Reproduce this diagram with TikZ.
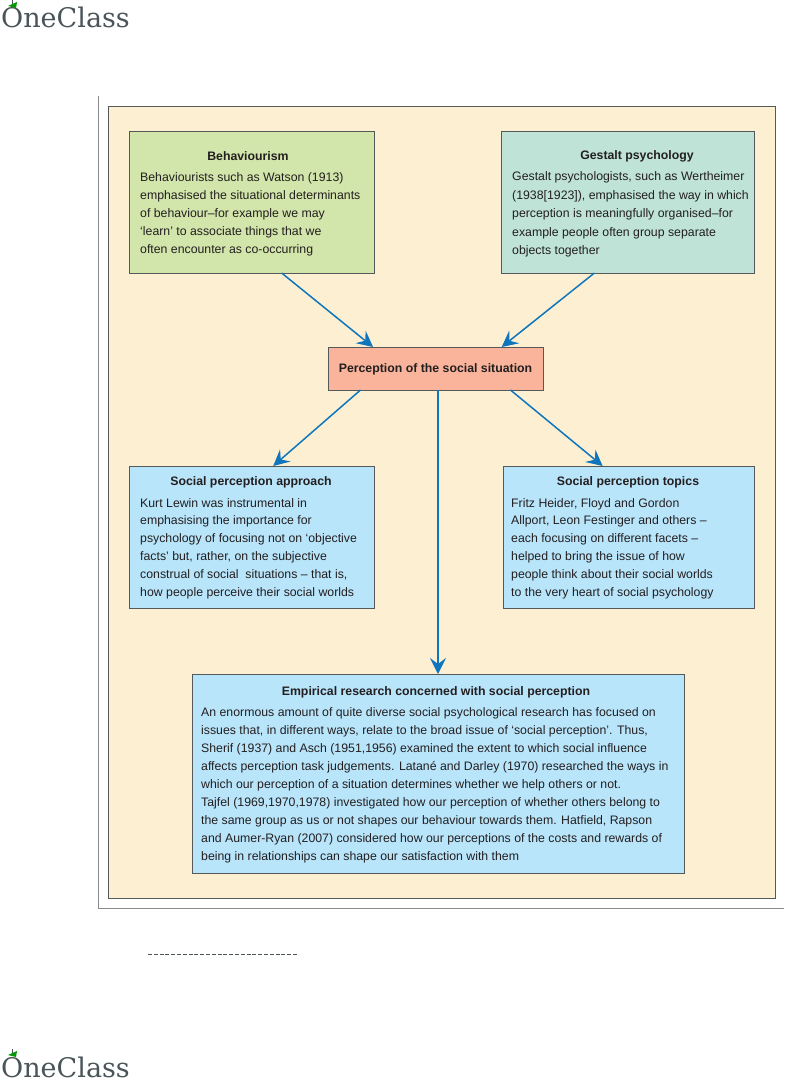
\documentclass[tikz,border=0pt]{standalone}
\usepackage{fontspec}
\setmainfont{Liberation Sans}
\newfontfamily\logofont{DejaVu Serif}
\usetikzlibrary{arrows.meta}
\definecolor{panelbg}{HTML}{FDF0D2}
\definecolor{greenbox}{HTML}{D2E5AA}
\definecolor{tealbox}{HTML}{BFE3D6}
\definecolor{salmonbox}{HTML}{F9B49B}
\definecolor{bluebox}{HTML}{B9E5FB}
\definecolor{arrowblue}{HTML}{0F75BD}
\definecolor{edgegrey}{HTML}{55595A}
\definecolor{logogrey}{HTML}{4A5559}
\definecolor{inkgrey}{HTML}{231F20}
\tikzset{
  box/.style={draw=edgegrey, line width=0.9pt, anchor=north west, inner sep=0pt, outer sep=0pt},
  heading/.style={font=\fontsize{12.3}{15}\selectfont\bfseries, text=inkgrey, inner sep=0pt},
  body/.style={font=\fontsize{12.3}{18}\selectfont, text=inkgrey, align=left, anchor=north west, inner sep=0pt},
  flow/.style={draw=arrowblue, line width=1.5pt, -{Stealth[length=16pt,width=16pt,inset=6pt]}},
  logo/.style={font=\fontsize{27}{27}\selectfont\logofont, text=logogrey, anchor=base west, inner sep=0pt}
}
\begin{document}
\begin{tikzpicture}[x=1pt,y=-1pt]
    \useasboundingbox (0,0) rectangle (784,1081);
    \fill[white] (0,0) rectangle (784,1081);

    % Logos, top and bottom
    \foreach \ybase in {28,1077} {
        \node[logo] at (1,\ybase) {OneClass};
        \draw[logogrey, line width=1pt] (12,\ybase-22) -- (12,\ybase-28);
        \fill[green!60!black] (8,\ybase-22) -- (17,\ybase-26) -- (16,\ybase-20) -- cycle;
    }

    % Outer frame and panel
    \draw[edgegrey!70, line width=0.9pt] (98,96) -- (98,908) -- (784,908);
    \fill[panelbg] (108,106) rectangle (775,898);
    \draw[edgegrey, line width=0.9pt] (108,106) rectangle (775,898);

    % Top boxes
    \node[box, fill=greenbox, minimum width=245pt, minimum height=142pt] (behav) at (129,131) {};
    \node[box, fill=tealbox, minimum width=253pt, minimum height=142pt] (gestalt) at (501,131) {};

    % Middle box
    \node[box, fill=salmonbox, minimum width=215pt, minimum height=43pt] (centre) at (328,347) {};
    \node[heading] (centretext) at (435.5,369) {Perception of the social situation};

    % Lower boxes
    \node[box, fill=bluebox, minimum width=245pt, minimum height=142pt] (approach) at (129,466) {};
    \node[box, fill=bluebox, minimum width=251pt, minimum height=142pt] (topics) at (503,466) {};
    \node[box, fill=bluebox, minimum width=492pt, minimum height=199pt] (empirical) at (192,674) {};

    % Box texts
    \node[heading] (behavhead) at (248,156.5) {Behaviourism};
    \node[body] (behavbody) at (140,172) {Behaviourists such as Watson (1913)\\
        emphasised the situational determinants\\
        of behaviour--for example we may\\
        `learn' to associate things that we\\
        often encounter as co-occurring};

    \node[heading] (gestalthead) at (637,156.5) {Gestalt psychology};
    \node[body, font=\fontsize{12.3}{18.5}\selectfont] (gestaltbody) at (512,171.5) {Gestalt psychologists, such as Wertheimer\\
        (1938[1923]), emphasised the way in which\\
        perception is meaningfully organised--for\\
        example people often group separate\\
        objects together};

    \node[heading] (approachhead) at (251,482.5) {Social perception approach};
    \node[body, font=\fontsize{12.3}{17.8}\selectfont] (approachbody) at (140,498) {Kurt Lewin was instrumental in\\
        emphasising the importance for\\
        psychology of focusing not on `objective\\
        facts' but, rather, on the subjective\\
        construal of social\ \ situations -- that is,\\
        how people perceive their social worlds};

    \node[heading] (topicshead) at (628,482.5) {Social perception topics};
    \node[body, font=\fontsize{12.3}{17.8}\selectfont] (topicsbody) at (511,498) {Fritz Heider, Floyd and Gordon\\
        Allport, Leon Festinger and others --\\
        each focusing on different facets --\\
        helped to bring the issue of how\\
        people think about their social worlds\\
        to the very heart of social psychology};

    \node[heading] (empiricalhead) at (436,692.5) {Empirical research concerned with social perception};
    \node[body] (empiricalbody) at (201,707) {An enormous amount of quite diverse social psychological research has focused on\\
        issues that, in different ways, relate to the broad issue of `social perception'. Thus,\\
        Sherif (1937) and Asch (1951,1956) examined the extent to which social influence\\
        affects perception task judgements. Latané and Darley (1970) researched the ways in\\
        which our perception of a situation determines whether we help others or not.\\
        Tajfel (1969,1970,1978) investigated how our perception of whether others belong to\\
        the same group as us or not shapes our behaviour towards them. Hatfield, Rapson\\
        and Aumer-Ryan (2007) considered how our perceptions of the costs and rewards of\\
        being in relationships can shape our satisfaction with them};

    % Arrows
    \draw[flow] (behav.-67.5) -- (centre.161.9);
    \draw[flow] (gestalt.-115.9) -- (centre.18.3);
    \draw[flow] (centre.-164) -- (approach.73.4);
    \draw[flow] (centre.-16.2) -- (topics.110.2);
    \draw[flow] (empirical.north |- centre.south) -- (empirical.north);

    % Dashed rule under the frame
    \draw[logogrey, line width=0.8pt, dash pattern=on 4pt off 1.8pt] (148,954) -- (298,954);
\end{tikzpicture}
\end{document}
